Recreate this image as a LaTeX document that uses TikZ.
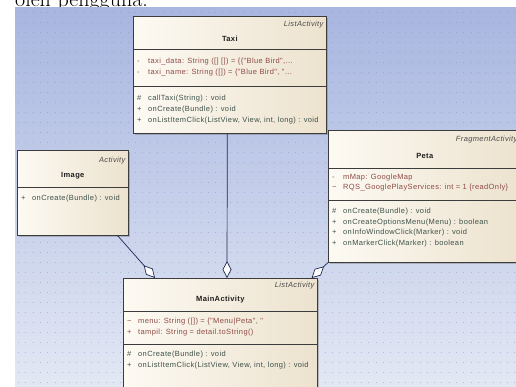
\documentclass[tikz,border=0pt]{standalone}
\usepackage{fontspec}
\newfontfamily\umlfont[LetterSpace=5]{Liberation Sans}
\usetikzlibrary{calc,arrows.meta,shadows}
\definecolor{bgtop}{HTML}{A8B6E0}
\definecolor{bgbot}{HTML}{E3E8F4}
\definecolor{gridc}{HTML}{7F8DB8}
\definecolor{creamL}{HTML}{FDFAF3}
\definecolor{creamR}{HTML}{ECE2CE}
\definecolor{boxline}{HTML}{3C3C3C}
\definecolor{attrc}{HTML}{8E4A45}
\definecolor{methc}{HTML}{3E5148}
\definecolor{titlec}{HTML}{1E1E1E}
\definecolor{stereoc}{HTML}{4A4A4A}
\definecolor{linec}{HTML}{1C2850}
\newcommand\umlsym[1]{\makebox[11pt][l]{#1}}
\tikzset{
 umlbox/.style={draw=boxline, line width=0.6pt, left color=creamL, right color=creamR, inner sep=0pt, anchor=north west, drop shadow={shadow xshift=1.5pt, shadow yshift=-1.5pt, opacity=0.35, fill=black!60}},
 divline/.style={draw=boxline, line width=0.6pt},
 umltxt/.style={inner sep=0pt, font=\umlfont\fontsize{7.5}{9}\selectfont, text height=5.5pt, text depth=1.6pt},
 stereo/.style={umltxt, font=\umlfont\fontsize{7.5}{9}\selectfont\itshape, text=stereoc, anchor=east},
 cname/.style={umltxt, font=\umlfont\fontsize{7.5}{9}\selectfont\bfseries, text=titlec},
 attr/.style={umltxt, text=attrc, anchor=west},
 meth/.style={umltxt, text=methc, anchor=west},
 assoc/.style={draw=linec, line width=0.7pt, -{Diamond[open, fill=white, length=17pt, width=9pt, line width=0.7pt]}},
}
\begin{document}
\begin{tikzpicture}[x=1pt,y=-1pt]
\useasboundingbox (0,0) rectangle (516,387);
\clip (0,0) rectangle (516,387);
\node[anchor=base west, inner sep=0pt, font=\fontsize{22}{22}\selectfont] (caption) at (15,7) {oleh pengguna.};
\shade[top color=bgtop, bottom color=bgbot] (15,8) rectangle (520,390);
\foreach \yy in {12,22,...,382} \draw[gridc, opacity=0.45, line width=0.9pt, dash pattern=on 0.9pt off 6.4pt] (18,\yy) -- (516,\yy);

% Taxi
\node[umlbox, minimum width=193pt, minimum height=117pt] (taxi) at (133,16) {};
\draw[divline] ($(taxi.north west)+(0,33)$) -- ($(taxi.north east)+(0,33)$);
\draw[divline] ($(taxi.north west)+(0,70)$) -- ($(taxi.north east)+(0,70)$);
\node[stereo] (taxiS) at ($(taxi.north east)+(-3,9)$) {ListActivity};
\node[cname] (taxiT) at ($(taxi.north)+(0,24)$) {Taxi};
\node[attr] (taxiA1) at ($(taxi.north west)+(4,46)$) {\umlsym{-}taxi\_data: String ([] []) = \{\{"Blue Bird",...};
\node[attr] (taxiA2) at ($(taxi.north west)+(4,57)$) {\umlsym{-}taxi\_name: String ([]) = \{"Blue Bird", "...};
\node[meth] (taxiM1) at ($(taxi.north west)+(4,83)$) {\umlsym{\#}callTaxi(String) : void};
\node[meth] (taxiM2) at ($(taxi.north west)+(4,94)$) {\umlsym{+}onCreate(Bundle) : void};
\node[meth] (taxiM3) at ($(taxi.north west)+(4,105)$) {\umlsym{+}onListItemClick(ListView, View, int, long) : void};

% Image
\node[umlbox, minimum width=111pt, minimum height=85pt] (image) at (17,150) {};
\draw[divline] ($(image.north west)+(0,37)$) -- ($(image.north east)+(0,37)$);
\node[stereo] (imageS) at ($(image.north east)+(-3,11)$) {Activity};
\node[cname] (imageT) at ($(image.north)+(0,26)$) {Image};
\node[meth] (imageM1) at ($(image.north west)+(4,49)$) {\umlsym{+}onCreate(Bundle) : void};

% Peta
\node[umlbox, minimum width=193pt, minimum height=132pt] (peta) at (328,130) {};
\draw[divline] ($(peta.north west)+(0,38)$) -- ($(peta.north east)+(0,38)$);
\draw[divline] ($(peta.north west)+(0,70)$) -- ($(peta.north east)+(0,70)$);
\node[stereo] (petaS) at ($(peta.north east)+(-4,10)$) {FragmentActivity};
\node[cname] (petaT) at ($(peta.north)+(0,27)$) {Peta};
\node[attr] (petaA1) at ($(peta.north west)+(4,48)$) {\umlsym{-}mMap: GoogleMap};
\node[attr] (petaA2) at ($(peta.north west)+(4,58)$) {\umlsym{\textasciitilde}RQS\_GooglePlayServices: int = 1 \{readOnly\}};
\node[meth] (petaM1) at ($(peta.north west)+(4,82)$) {\umlsym{\#}onCreate(Bundle) : void};
\node[meth] (petaM2) at ($(peta.north west)+(4,92.5)$) {\umlsym{+}onCreateOptionsMenu(Menu) : boolean};
\node[meth] (petaM3) at ($(peta.north west)+(4,103)$) {\umlsym{+}onInfoWindowClick(Marker) : void};
\node[meth] (petaM4) at ($(peta.north west)+(4,113.5)$) {\umlsym{+}onMarkerClick(Marker) : boolean};

% MainActivity
\node[umlbox, minimum width=194pt, minimum height=110pt] (main) at (123,278) {};
\draw[divline] ($(main.north west)+(0,33)$) -- ($(main.north east)+(0,33)$);
\draw[divline] ($(main.north west)+(0,66)$) -- ($(main.north east)+(0,66)$);
\node[stereo] (mainS) at ($(main.north east)+(-3,8)$) {ListActivity};
\node[cname] (mainT) at ($(main.north)+(0,22)$) {MainActivity};
\node[attr] (mainA1) at ($(main.north west)+(4,44)$) {\umlsym{\textasciitilde}menu: String ([]) = \{"Menu|Peta", "};
\node[attr] (mainA2) at ($(main.north west)+(4,55)$) {\umlsym{+}tampil: String = detail.toString()};
\node[meth] (mainM1) at ($(main.north west)+(4,77)$) {\umlsym{\#}onCreate(Bundle) : void};
\node[meth] (mainM2) at ($(main.north west)+(4,88)$) {\umlsym{+}onListItemClick(ListView, View, int, long) : void};

% connectors
\draw[assoc] ($(taxi.south)+(-2.5,0)$) -- ($(main.north west)+(104,0)$);
\draw[assoc] ($(image.south east)+(-11,0)$) -- ($(main.north west)+(32,0)$);
\draw[assoc] (peta.south west) -- ($(main.north east)+(-6,0)$);
\end{tikzpicture}
\end{document}
